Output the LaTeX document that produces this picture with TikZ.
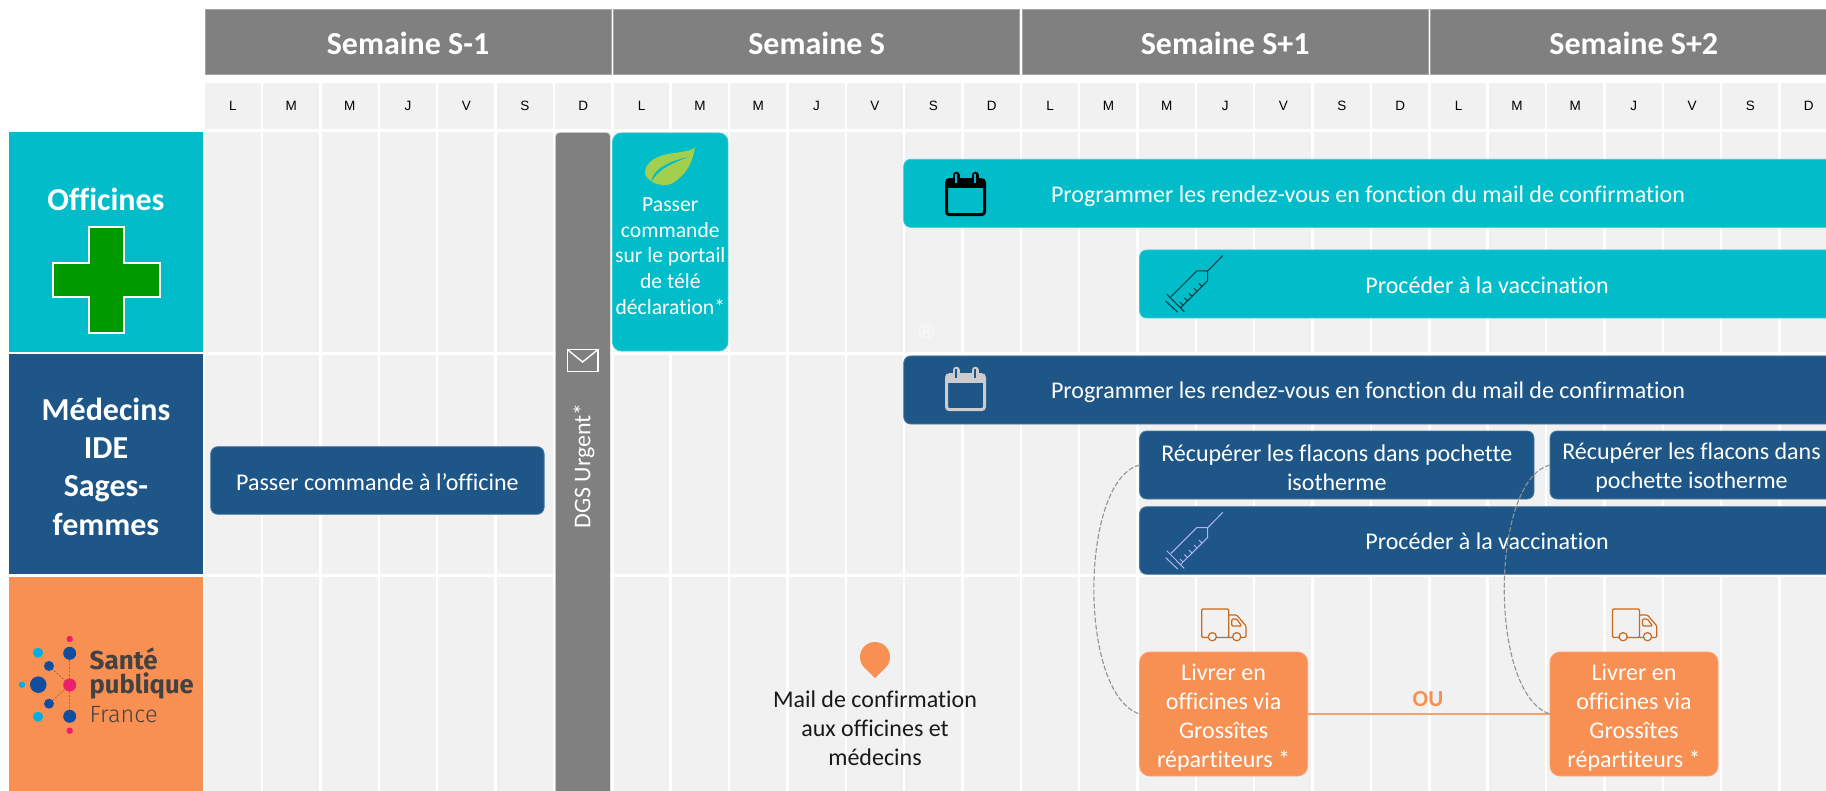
\documentclass[tikz,border=0pt]{standalone}
\usepackage{fontspec}
\setmainfont{Carlito}[Ligatures=NoCommon]
\newfontfamily\dayfont{Liberation Sans}
\newfontfamily\logofont{Fira Sans}
\newfontfamily\logolight{Fira Sans Light}
\definecolor{teal1}{HTML}{00BDC9}
\definecolor{navy1}{HTML}{1D5687}
\definecolor{orange1}{HTML}{F79052}
\definecolor{gray1}{HTML}{808080}
\definecolor{cell1}{HTML}{F1F1F1}
\definecolor{green1}{HTML}{009900}
\definecolor{leaf1}{HTML}{A2D04E}
\definecolor{truck1}{HTML}{C8691E}
\definecolor{logoblue}{HTML}{114F9E}
\definecolor{logocyan}{HTML}{00AEE6}
\definecolor{logopink}{HTML}{EE1F6A}
\definecolor{logotext}{HTML}{424242}
\newcommand{\firstline}[1]{\rule{0pt}{#1pt}}
\tikzset{
  box/.style={anchor=north west,inner sep=0pt,outer sep=0pt,align=center,text=white,font=\fontsize{24}{28.8}\selectfont},
  lane/.style={box,font=\bfseries\fontsize{32}{38.4}\selectfont},
  weekhead/.style={box,fill=gray1,draw=gray1!70!white,line width=.8pt,minimum height=65pt,minimum width=406pt,text height=26pt,font=\bfseries\fontsize{32}{38}\selectfont},
  task/.style={box,rounded corners=7pt,line width=.8pt},
  tealtask/.style={task,fill=teal1,draw=teal1!80!white},
  navytask/.style={task,fill=navy1,draw=navy1!80!white},
  orangetask/.style={task,fill=orange1,draw=orange1!80!white,rounded corners=10pt,minimum width=168pt,minimum height=124pt},
  daylabel/.style={inner sep=0pt,font=\dayfont\fontsize{13.5}{16}\selectfont,text=black},
  label24/.style={inner sep=0pt,text=white,font=\fontsize{24}{28}\selectfont},
  link/.style={gray1!85!white,dashed,dash pattern=on 5pt off 2pt,line width=1.1pt},
  oulink/.style={orange1!85!white,line width=2.4pt},
  pics/syringe/.style={code={
    \draw[#1,line width=1pt,line join=round]
      (82.7,15.7)--(67.7,31)--(56.7,31)--(31,56.7)
      (67.7,31)--(67.7,40.7)--(41,67.3)
      (26.7,54)--(44.3,71.7)
      (25.7,61)--(37.7,72.3)
      (62,46.4)--(59,43.4) (57,51.3)--(54,48.3) (52,56.4)--(49,53.4)
      (47.5,60.9)--(44.5,57.9) (43,65.3)--(40,62.3);
  }},
  pics/calendar/.style 2 args={code={
    \fill[#1] (1,7) rectangle (40,16);
    \draw[#1,line width=3pt,rounded corners=3pt] (1.5,8) rectangle (39.5,43);
    \draw[#1,line width=7pt,line cap=round] (11,3.5)--(11,9) (30,3.5)--(30,9);
    \draw[#2,line width=2pt] (11,2.5)--(11,11.5) (30,2.5)--(30,11.5);
  }},
  pics/truck/.style={code={
    \draw[truck1,line width=1.2pt,rounded corners=1.2pt]
      (6.5,28.5)--(0,28.5)--(0,0)--(27,0)--(27,28.5)--(14.5,28.5)
      (27,6)--(35,6)--(44.3,17)--(44.3,28.5)--(39,28.5) (31,28.5)--(27,28.5)
      (30,10)--(35,10)--(40,17)--(30,17)--cycle;
    \draw[truck1,line width=1.2pt] (10.6,27.7) circle (4.1pt) (35,27.7) circle (4.1pt);
  }},
}
\begin{document}
\begin{tikzpicture}[x=1pt,y=-1pt]
\clip (0,0) rectangle (1826,791);
\fill[white] (0,0) rectangle (1826,791);
% grid of days
\foreach \k in {0,...,27}{
  \pgfmathsetmacro{\xa}{205+58.36*\k}
  \fill[cell1] (\xa,83) rectangle +(55.9,46.3);
  \fill[cell1] (\xa,132) rectangle +(55.9,220);
  \fill[cell1] (\xa,355) rectangle +(55.9,219);
  \fill[cell1] (\xa,577) rectangle +(55.9,214);
}
\foreach \k/\d in {0/L,1/M,2/M,3/J,4/V,5/S,6/D,7/L,8/M,9/M,10/J,11/V,12/S,13/D,14/L,15/M,16/M,17/J,18/V,19/S,20/D,21/L,22/M,23/M,24/J,25/V,26/S,27/D}{
  \pgfmathsetmacro{\xa}{233+58.36*\k}
  \node[daylabel] (day\k) at (\xa,105.5) {\d};
}
% week headers
\node[weekhead] (w0) at (205,9) {Semaine S-1};
\node[weekhead] (w1) at (613.6,9) {Semaine S};
\node[weekhead] (w2) at (1022.2,9) {Semaine S+1};
\node[weekhead] (w3) at (1430.8,9) {Semaine S+2};
% lanes
\node[lane,fill=teal1,minimum width=194pt,minimum height=220pt] (officines) at (9,132) {};
\node[inner sep=0pt,text=white,font=\bfseries\fontsize{32}{38}\selectfont] (officinestxt) at (106,199) {Officines};
\node[lane,fill=navy1,minimum width=194pt,minimum height=219.5pt] (medecins) at (9,354.5) {\firstline{27}M\'edecins\\IDE\\Sages-\\femmes};
\node[lane,fill=orange1,minimum width=194pt,minimum height=214pt] (spf) at (9,577) {};
% green cross
\draw[fill=green1,draw=white,line width=2pt]
  (89,227)--(124,227)--(124,263)--(159.5,263)--(159.5,297)--(124,297)--(124,333)--(89,333)--(89,297)--(53,297)--(53,263)--(89,263)--cycle;
% logo
\draw[logotext!70!orange1,line width=.5pt,dash pattern=on 2pt off 1.5pt]
  (69.7,653)--(69.7,717) (49,666)--(69.7,685)--(49,703.7);
\foreach \x/\y/\s/\c in {69.7/639/6.4/logopink,69.7/653.3/13/logoblue,38/652.7/10/logocyan,49/666/10/logoblue,38.3/684.7/16.5/logoblue,22/684.7/6.4/logocyan,69.7/685/13/logopink,49/703.7/10/logoblue,38/716.7/10/logocyan,69.7/716.3/13/logoblue,69.7/730.7/6.4/logopink}{
  \fill[\c] (\x,\y) circle ({\s/2});
}
\node[anchor=west,inner sep=0pt,text=logotext,font=\logofont\bfseries\fontsize{26}{28}\selectfont] (logo1) at (89.5,659) {Sant\'e};
\node[anchor=west,inner sep=0pt,text=logotext,font=\logofont\bfseries\fontsize{25.6}{28}\selectfont] (logo2) at (89.5,686) {publique};
\node[anchor=west,inner sep=0pt,text=logotext,font=\logolight\fontsize{23.5}{26}\selectfont] (logo3) at (89.5,715) {France};
% DGS bar
\node[box,fill=gray1,rounded corners=4pt,minimum width=54.5pt,minimum height=680pt] (dgs) at (555.7,132.7) {};
\node[rotate=90,label24] (dgstxt) at (584,466) {DGS Urgent*};
\draw[white,line width=1.4pt,line join=miter] (567.2,349.5) rectangle (598,371.5);
\draw[white,line width=1.4pt] (567.2,349.5)--(582.6,362)--(598,349.5);
% teal tasks
\node[tealtask,minimum width=115.5pt,minimum height=218pt,rounded corners=9pt] (passer1) at (612.4,133) {};
\node[inner sep=0pt,align=center,text=white,font=\fontsize{21.6}{25.7}\selectfont] (passer1txt) at (670.3,256) {Passer\\commande\\sur le portail\\de t\'el\'e\\d\'eclaration*};
\fill[leaf1] (695,147.3) .. controls (690,153) and (668,152) .. (658,157) .. controls (650,160) and (644,168) .. (645,173)
  .. controls (647,184) and (668,190) .. (677,180) .. controls (688,172) and (693,160) .. (695,147.3) -- cycle;
\fill[teal1] (651.5,182) .. controls (652,170) and (668,161) .. (689,157) .. controls (672,163) and (657,170) .. (651.5,182) -- cycle;
\node[tealtask,minimum width=940pt,minimum height=68pt] (prog1) at (903.7,159.3) {};
\node[label24] (prog1txt) at (1368,196.5) {Programmer les rendez-vous en fonction du mail de confirmation};
\node[tealtask,minimum width=700pt,minimum height=68pt] (proc1) at (1139.6,250) {};
\node[label24] (proc1txt) at (1487,285) {Proc\'eder \`a la vaccination};
\pic at (945,171.7) {calendar={black}{teal1}};
\pic at (1140,240) {syringe={black!70!teal1}};
\node[inner sep=0pt,text=white,font=\dayfont\fontsize{21}{24}\selectfont,opacity=.75] (reg) at (926.7,331) {®};
% navy tasks
\node[navytask,minimum width=940pt,minimum height=68pt] (prog2) at (903.7,356) {};
\node[label24] (prog2txt) at (1368,392) {Programmer les rendez-vous en fonction du mail de confirmation};
\pic at (945,366.7) {calendar={black!20}{navy1}};
\node[navytask,minimum width=333.4pt,minimum height=67.6pt] (cmd) at (210.7,446.7) {\firstline{21}Passer commande \`a l’officine};
\node[navytask,minimum width=394.4pt,minimum height=68pt] (rec1) at (1139.6,431) {\firstline{22.5}R\'ecup\'erer les flacons dans pochette\\isotherme};
\node[navytask,minimum width=283pt,minimum height=68pt] (rec2) at (1550,431) {\firstline{22.5}R\'ecup\'erer les flacons dans\\pochette isotherme};
\node[navytask,minimum width=700pt,minimum height=67.6pt] (proc2) at (1139.6,506.7) {};
\node[label24] (proc2txt) at (1487,541.7) {Proc\'eder \`a la vaccination};
\pic at (1140,496.7) {syringe={black!15!blue!30!white}};
% pin + mail
\fill[orange1] (875,657) circle (15pt);
\fill[orange1] (864.4,667.6)--(875,678)--(885.6,667.6)--cycle;
\node[inner sep=0pt,align=center,text=black!90,font=\fontsize{24}{29}\selectfont] (mail) at (875,728) {Mail de confirmation\\aux officines et\\m\'edecins};
% orange tasks
\node[orangetask] (liv1) at (1139.6,652) {\firstline{24}Livrer en\\officines via\\Gross\^ites\\r\'epartiteurs *};
\node[orangetask] (liv2) at (1550,652) {\firstline{24}Livrer en\\officines via\\Gross\^ites\\r\'epartiteurs *};
\pic at (1201.7,609) {truck};
\pic at (1612.5,609) {truck};
\draw[oulink] (liv1.east)--(liv2.west);
\node[inner sep=0pt,text=orange1,font=\bfseries\fontsize{23}{26}\selectfont] (ou) at (1428,699.5) {OU};
% dashed links
\draw[link] (rec1.west) .. controls +(-60,15) and +(-62,-20) .. (liv1.west);
\draw[link] (rec2.west) .. controls +(-60,15) and +(-62,-20) .. (liv2.west);
\end{tikzpicture}
\end{document}
